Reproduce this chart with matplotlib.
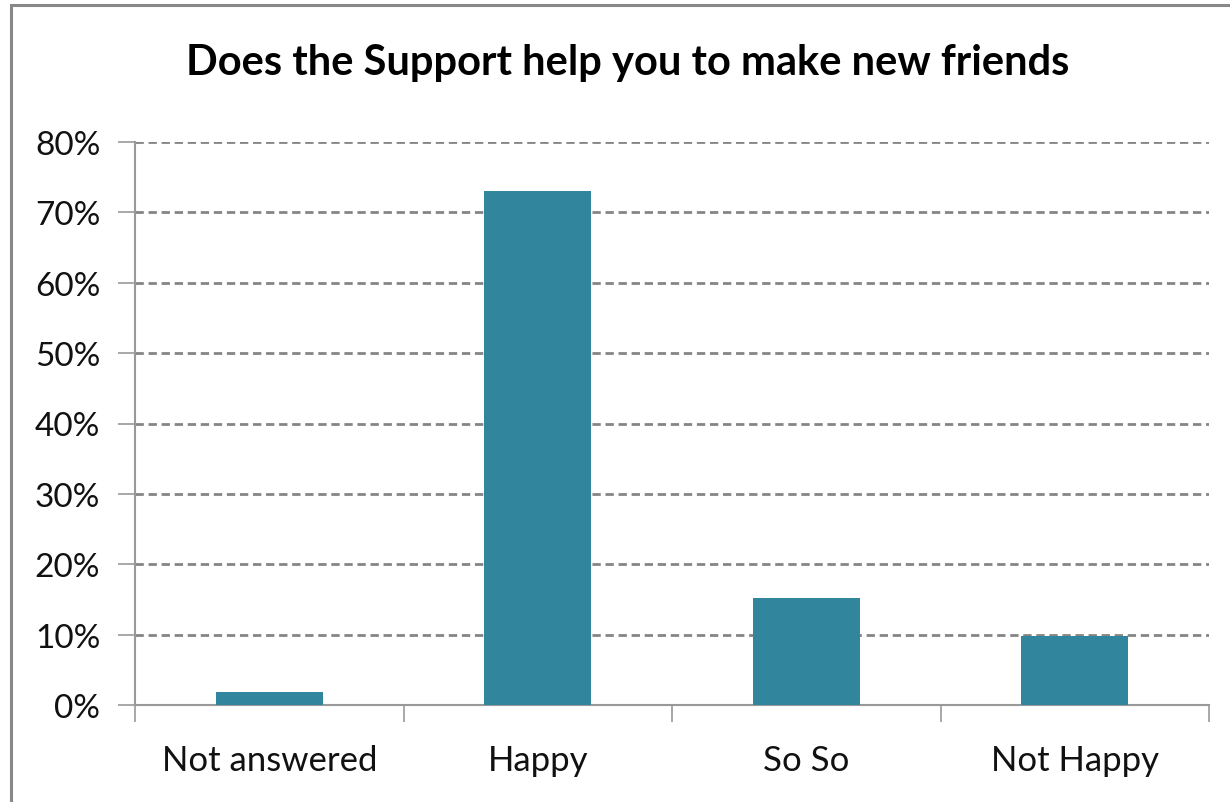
import matplotlib
matplotlib.use("Agg")
import matplotlib.pyplot as plt
from matplotlib.patches import Rectangle
from matplotlib.ticker import FuncFormatter, FixedLocator

categories = ["Not answered", "Happy", "So So", "Not Happy"]
values = [1.9, 73.1, 15.2, 9.8]
yticks = [0, 10, 20, 30, 40, 50, 60, 70, 80]
title = "Does the Support help you to make new friends"

W, H = 1230, 803
fig = plt.figure(figsize=(W / 100, H / 100), dpi=100)
plt.rcParams['font.family'] = ['Lato', 'DejaVu Sans']

# figure border (cropped on right/bottom)
fig.patches.append(Rectangle((11 / W, -0.05), 1.1, 1 - 6 / H + 0.05, transform=fig.transFigure,
                             fill=False, edgecolor='#888888', linewidth=2.2, zorder=0))

left, right, top, bottom = 135, 1209, 143, 706
ax = fig.add_axes([left / W, 1 - bottom / H, (right - left) / W, (bottom - top) / H])

x = list(range(len(categories)))
ax.bar(x, values, width=0.4, color='#31859C', zorder=3)
ax.set_xlim(-0.5, len(categories) - 0.5)
ax.set_ylim(0, 80)

ax.set_yticks(yticks)
ax.yaxis.set_major_formatter(FuncFormatter(lambda v, p: f"{int(v)}%"))
ax.grid(axis='y', color='#858585', linestyle=(0, (3.0, 1.7)), linewidth=2.0, zorder=1)
ax.set_axisbelow(True)

ax.xaxis.set_major_locator(FixedLocator([i - 0.5 for i in range(len(categories) + 1)]))
ax.xaxis.set_major_formatter(FuncFormatter(lambda v, p: ""))
ax.xaxis.set_minor_locator(FixedLocator(x))
ax.set_xticklabels(categories, minor=True)
ax.tick_params(axis='x', which='minor', length=0, labelsize=25, pad=28, labelcolor='#111111')
ax.tick_params(axis='x', which='major', length=12, width=1.2, color='#999999', direction='out')
ax.tick_params(axis='y', length=12, width=1.2, color='#999999', labelsize=24, pad=13, labelcolor='#111111')

for s in ['top', 'right']:
    ax.spines[s].set_visible(False)
for s in ['left', 'bottom']:
    ax.spines[s].set_color('#999999')
    ax.spines[s].set_linewidth(1.5)

fig.text(628 / W, 1 - 63 / H, title, ha='center', va='center', fontsize=30, fontweight='bold', color='#000000')

fig.savefig("out.png", dpi=100, facecolor='white')
